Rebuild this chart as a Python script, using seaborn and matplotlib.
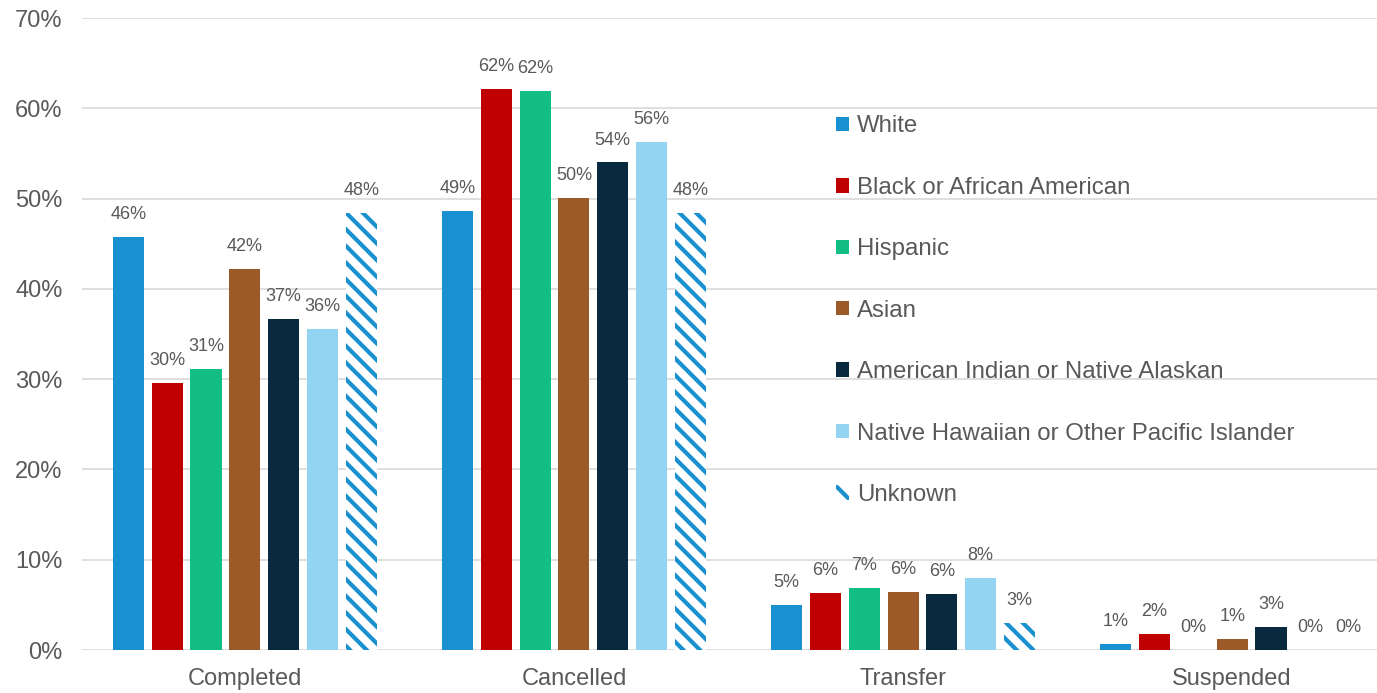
import pandas as pd
import numpy as np
import seaborn as sns
import matplotlib.pyplot as plt
from matplotlib.patches import Patch

# data (percent)
statuses = ["Completed", "Cancelled", "Transfer", "Suspended"]
groups = ["White", "Black or African American", "Hispanic", "Asian",
          "American Indian or Native Alaskan",
          "Native Hawaiian or Other Pacific Islander", "Unknown"]

white = [45.8, 48.6, 5.0, 0.7]
black = [29.6, 62.1, 6.3, 1.8]
hispanic = [31.1, 61.9, 6.9, 0.0]
asian = [42.2, 50.1, 6.4, 1.2]
am_indian = [36.7, 54.0, 6.2, 2.6]
hawaiian = [35.6, 56.3, 8.0, 0.0]
unknown = [48.4, 48.4, 3.0, 0.0]

colors = ["#1990D0", "#C00000", "#13BE85", "#9C5A28", "#08293E", "#92D4F2", "#1990D0"]
text_grey = "#595959"

series = [white, black, hispanic, asian, am_indian, hawaiian, unknown]
df = pd.DataFrame({
    "status": np.tile(statuses, len(groups)),
    "group": np.repeat(groups, len(statuses)),
    "value": np.concatenate(series),
})

sns.set_style("white")
plt.rcParams["font.family"] = ["Liberation Sans", "DejaVu Sans"]
plt.rcParams["hatch.linewidth"] = 3.0

fig = plt.figure(figsize=(13.77, 6.93), dpi=100)
ax = fig.add_axes([0.0595, 0.062, 0.9405, 0.912])

sns.barplot(data=df, x="status", y="value", hue="group", order=statuses,
            hue_order=groups, palette=colors, width=0.826, gap=0.2,
            saturation=1, linewidth=0, legend=False, ax=ax)

# unknown bars are hatched
for p in ax.containers[-1]:
    p.set_facecolor("white")
    p.set_edgecolor(colors[-1])
    p.set_hatch("\\\\")
    p.set_linewidth(0)

for cont in ax.containers:
    ax.bar_label(cont, fmt=lambda v: f"{v:.0f}%", padding=10,
                 fontsize=13, color=text_grey)

ax.set_ylim(0, 70)
ax.set_xlim(-0.495, 3.44)
ax.set_yticks(range(0, 71, 10))
ax.set_yticklabels([f"{t}%" for t in range(0, 71, 10)])
ax.yaxis.grid(True, color="#D9D9D9", linewidth=1.2)
ax.set_axisbelow(True)
ax.tick_params(axis="both", length=0, labelsize=17, colors=text_grey)
ax.tick_params(axis="y", pad=14)
ax.tick_params(axis="x", pad=13)
ax.set_xlabel("")
ax.set_ylabel("")
for s in ax.spines.values():
    s.set_visible(False)

handles = []
for g, c in zip(groups, colors):
    if g == "Unknown":
        handles.append(Patch(facecolor="white", edgecolor=c, hatch="\\\\", linewidth=0, label=g))
    else:
        handles.append(Patch(facecolor=c, linewidth=0, label=g))
leg = ax.legend(handles=handles, loc="upper left", bbox_to_anchor=(0.575, 0.861),
                frameon=False, fontsize=17.3, labelspacing=1.64, handlelength=0.55,
                handleheight=0.55, handletextpad=0.3, borderaxespad=0)
for t in leg.get_texts():
    t.set_color(text_grey)

fig.savefig("out.png", dpi=100)
